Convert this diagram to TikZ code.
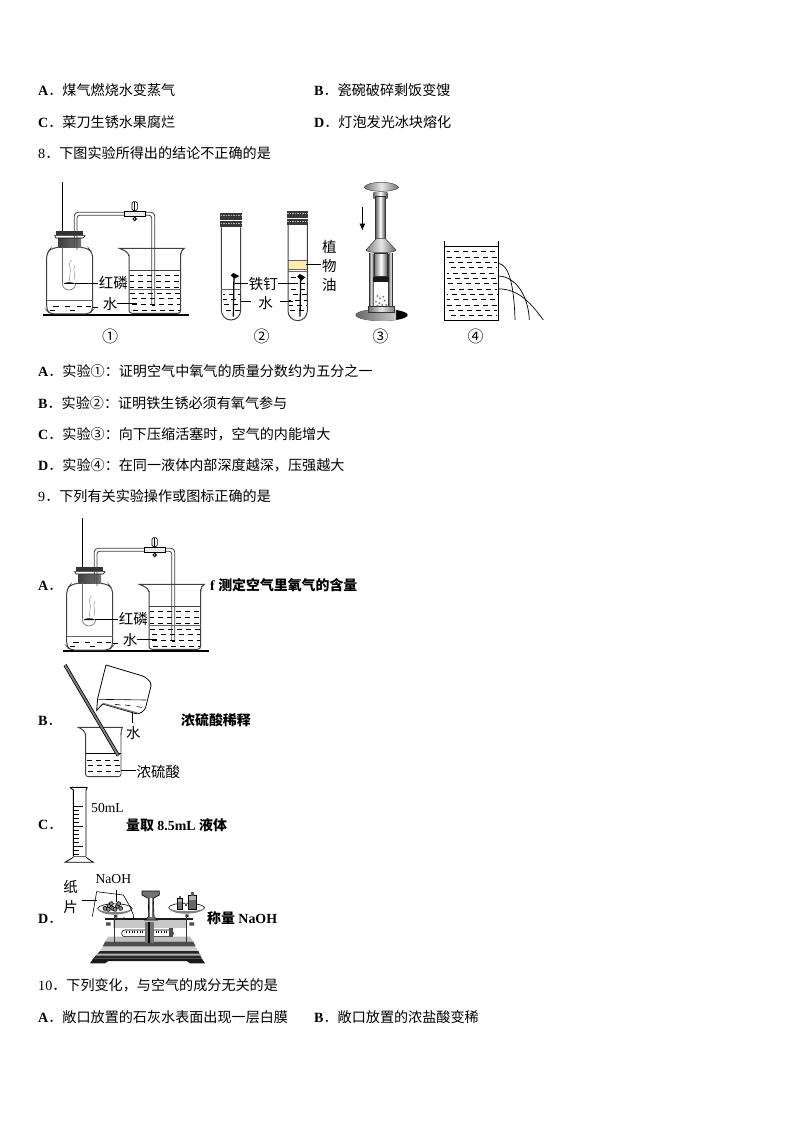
\documentclass[tikz,border=0pt]{standalone}
\usepackage{fontspec}
\usetikzlibrary{arrows.meta}
\setmainfont{Liberation Serif}
\newfontfamily\cjk{Noto Sans CJK SC}
\newcommand{\zh}[1]{{\cjk #1}}
\newcommand{\opt}[1]{{\bfseries #1}{\cjk ．}}
\tikzset{
 txt/.style={anchor=west,inner sep=0pt,font=\fontsize{14.1}{15}\selectfont},
 lbl/.style={inner sep=0pt,font=\fontsize{14.5}{16}\selectfont\cjk},
 circ/.style={inner sep=0pt,font=\fontsize{16}{17}\selectfont\cjk},
 btxt/.style={anchor=west,inner sep=0pt,font=\fontsize{13.9}{15}\selectfont\bfseries},
 ink/.style={line width=0.6pt,black},
 soft/.style={line width=0.6pt,black!60},
 wdash/.style={line width=0.5pt,black,dash pattern=on 5pt off 4pt},
 glass/.style={line width=0.8pt,black!75},
}
\newcommand{\apparatus}[1]{%
 % base
 \fill[black] (40,433) rectangle (478,439);
 % bottle
 \draw[glass,line width=1pt,rounded corners=4pt] (85,232) -- (62,236) -- (50,250) -- (50,420) -- (60,432) -- (178,432) -- (188,420) -- (188,250) -- (176,236) -- (152,232);
 \draw[soft] (50,392) -- (188,392);
 \foreach \x in {70,105,140,168} \draw[ink,line width=0.7pt] (\x,409) -- ++(16,0);
 \foreach \x in {60,120} \draw[ink,line width=0.7pt] (\x,420) -- ++(16,0);
 % stopper
 \shade[left color=black!75,right color=black!55] (85,204) rectangle (153,232);
 \fill[black!80] (78,184) rectangle (158,195);
 \draw[ink,fill=white] (74,197) -- (165,197) -- (160,204) -- (78,204) -- cycle;
 % rod
 \draw[ink] (97,35) -- (97,184);
 \draw[soft] (97,232) -- (97,338);
 % smoke
 \draw[black!35,line width=0.6pt] (125,270) .. controls (108,285) and (128,295) .. (120,310) .. controls (115,320) and (122,328) .. (118,335);
 \draw[black!35,line width=0.6pt] (135,285) .. controls (125,300) and (140,315) .. (132,330);
 % spoon
 \draw[soft,fill=white] (97,340) arc[start angle=180,end angle=0,radius=20];
 \fill[black] (100,342) .. controls (105,335) and (130,335) .. (136,342) -- cycle;
 \draw[ink] (136,340) -- (205,340);
 \draw[ink] (188,411) -- (205,411);
 % tube
 \draw[glass,rounded corners=3.5pt] (133,232) -- (133,127) -- (374,127) -- (374,405);
 \draw[glass,rounded corners=2.5pt] (141,240) -- (141,136) -- (365,136) -- (365,405);
 \draw[ink] (365,405) -- (374,405);
 % clamp
 \draw[ink,fill=black!8] (283,123) rectangle (345,140);
 \draw[ink,fill=white,rounded corners=1.5pt] (306,95) rectangle (322,122);
 \draw[ink] (314,95) -- (314,122);
 \draw[ink] (314,140) -- (314,143);
 \draw[ink,line width=1pt] (314,147) circle[radius=5];
 % beaker
 \draw[glass,line width=1pt,rounded corners=3pt] (297,255) -- (297,430) -- (452,430) -- (452,250);
 \draw[glass,line width=1pt] (297,258) .. controls (295,245) and (280,240) .. (268,235) -- (463,235) .. controls (456,240) and (452,245) .. (452,255);
 \draw[glass] (297,300) -- (452,300);
 \draw[soft] (297,358) -- (452,358);
 \foreach \y in {316,334,352,369,385,403,420} \draw[wdash,dash phase=\y pt] (300,\y) -- (450,\y);
 \draw[ink,line width=0.7pt] (262,400) -- (322,400);
 \node[lbl] (#1a) at (250,340) {红磷};
 \node[lbl] (#1b) at (240,402) {水};
}
\newcommand{\stopper}[2]{%
 \fill[black!78] (#1-4,#2) rectangle (#1+61,#2+21);
 \fill[black!78] (#1-4,#2+26) rectangle (#1+61,#2+43);
 \draw[white!70!black,dash pattern=on 1.5pt off 1pt,line width=0.9pt] (#1-2,#2+9) -- (#1+59,#2+9);
 \draw[white!70!black,dash pattern=on 1.5pt off 1pt,line width=0.9pt] (#1-2,#2+33) -- (#1+59,#2+33);
}
\begin{document}
\begin{tikzpicture}[x=1pt,y=-1pt]
\useasboundingbox (0,0) rectangle (794,1123);
\fill[white] (0,0) rectangle (794,1123);
% question text
\node[txt] (t1) at (38,90.5) {\opt{A}\zh{煤气燃烧水变蒸气}};
\node[txt] (t2) at (314,90.5) {\opt{B}\zh{瓷碗破碎剩饭变馊}};
\node[txt] (t3) at (38,122.5) {\opt{C}\zh{菜刀生锈水果腐烂}};
\node[txt] (t4) at (314,122.5) {\opt{D}\zh{灯泡发光冰块熔化}};
\node[txt] (t5) at (38,153.5) {8\zh{．下图实验所得出的结论不正确的是}};
\node[txt] (t6) at (38,371.5) {\opt{A}\zh{实验①：证明空气中氧气的质量分数约为五分之一}};
\node[txt] (t7) at (38,403.5) {\opt{B}\zh{实验②：证明铁生锈必须有氧气参与}};
\node[txt] (t8) at (38,434.5) {\opt{C}\zh{实验③：向下压缩活塞时，空气的内能增大}};
\node[txt] (t9) at (38,465.5) {\opt{D}\zh{实验④：在同一液体内部深度越深，压强越大}};
\node[txt] (t10) at (38,496.5) {9\zh{．下列有关实验操作或图标正确的是}};
\node[txt] (t11) at (38,585.5) {\opt{A}};
\node[txt] (t12) at (38,720.5) {\opt{B}};
\node[txt] (t13) at (38,824.5) {\opt{C}};
\node[txt] (t14) at (38,918.5) {\opt{D}};
\node[btxt] (t15) at (210,585.5) {f \zh{测定空气里氧气的含量}};
\node[btxt] (t16) at (181,720.5) {\zh{浓硫酸稀释}};
\node[btxt] (t17) at (126,825.5) {\zh{量取} 8.5mL \zh{液体}};
\node[btxt] (t18) at (207,918.5) {\zh{称量} NaOH};
\node[txt] (t19) at (38,985.5) {10\zh{．下列变化，与空气的成分无关的是}};
\node[txt] (t20) at (38,1017.5) {\opt{A}\zh{敞口放置的石灰水表面出现一层白膜}};
\node[txt] (t21) at (314,1017.5) {\opt{B}\zh{敞口放置的浓盐酸变稀}};
% figure 1
\begin{scope}[shift={(30,170)},scale=1/3]
 \apparatus{p}
 \node[circ] (n1) at (240,498) {①};
 % figure 2
 \stopper{574}{128}
 \stopper{774}{122}
 \draw[glass,line width=1pt] (574,172) -- (574,421) arc[start angle=180,end angle=0,radius=29] -- (632,172);
 \draw[soft] (574,358) -- (632,358);
 \foreach \y in {372,388,404,420} \draw[wdash,dash phase=\y pt] (578,\y) -- (630,\y);
 \draw[black,line width=1.3pt] (610,440) -- (612,318);
 \fill[black] (602,316) -- (610,309) -- (628,318) -- (614,326) -- cycle;
 \draw[ink] (614,340) -- (655,340);
 \draw[ink] (632,393) -- (662,393);
 \node[lbl] (n2a) at (700,343) {铁钉};
 \node[lbl] (n2b) at (707,398) {水};
 \node[circ] (n2) at (695,498) {②};
 % right tube
 \fill[yellow!55!orange!30] (775,272) rectangle (832,298);
 \draw[soft] (775,272) -- (832,272) (775,298) -- (832,298) (775,305) -- (832,305);
 \draw[glass,line width=1pt] (774,165) -- (774,423) arc[start angle=180,end angle=0,radius=29] -- (832,165);
 \foreach \y in {322,340,358,374,390,406,422} \draw[wdash,dash phase=\y pt] (778,\y) -- (830,\y);
 \draw[black,line width=1.3pt] (810,440) -- (812,325);
 \fill[black] (802,320) -- (810,312) -- (826,322) -- (814,332) -- cycle;
 \draw[ink] (745,340) -- (805,340);
 \draw[ink] (750,393) -- (790,393);
 \draw[ink] (828,283) -- (872,283);
 \node[lbl] (n3a) at (898,230) {植};
 \node[lbl] (n3b) at (898,287) {物};
 \node[lbl] (n3c) at (898,345) {油};
\end{scope}
\begin{scope}[shift={(290,170)},scale=1/3]
 % figure 3
 \draw[black,line width=1.2pt,-{Latex[length=7pt,width=6pt]}] (217,110) -- (217,182);
 \shade[left color=black!60,right color=black!70,middle color=white] (250,68) rectangle (292,85);
 \shade[left color=black!55,right color=black!55,middle color=black!10] (222,52) .. controls (232,32) and (316,32) .. (326,52) .. controls (316,68) and (232,68) .. (222,52) -- cycle;
 \draw[black!70,line width=0.5pt] (222,52) .. controls (232,32) and (316,32) .. (326,52) .. controls (316,68) and (232,68) .. (222,52) -- cycle;
 \shade[left color=black!65,right color=black!75,middle color=white] (256,80) rectangle (286,208);
 \draw[black!80,line width=0.5pt] (256,80) rectangle (286,208);
 \shade[left color=black!50,right color=black!60,middle color=black!10] (260,205) -- (285,205) -- (318,240) arc[start angle=0,end angle=180,x radius=45,y radius=8] -- cycle;
 \draw[black!80,line width=0.5pt] (260,205) -- (285,205) -- (318,240) arc[start angle=0,end angle=180,x radius=45,y radius=8] -- cycle;
 \shade[left color=black!60,right color=black!70,middle color=black!10] (238,250) rectangle (250,415);
 \shade[left color=black!60,right color=black!70,middle color=black!10] (296,250) rectangle (308,415);
 \draw[black!80,line width=0.6pt] (238,250) -- (238,415) (308,250) -- (308,415);
 \shade[left color=black!50,right color=black!65,middle color=white] (254,250) rectangle (292,320);
 \draw[black!80,line width=0.6pt] (254,250) rectangle (292,320);
 \fill[black!90] (250,320) rectangle (296,336);
 \foreach \x/\y in {262/378,270/385,280/380,258/395,268/400,284/392,276/405,262/407,288/405} \fill[black!55] (\x,\y) circle[radius=3];
 \fill[black] (275,435) ellipse[x radius=78,y radius=18];
 \begin{scope}
  \clip (190,400) rectangle (318,470);
  \shade[left color=black!60,right color=black!10] (275,435) ellipse[x radius=78,y radius=18];
 \end{scope}
 \shade[left color=black!55,right color=black!50,middle color=black!10] (236,410) rectangle (312,428);
 \draw[black!80,line width=0.5pt] (236,410) rectangle (312,428);
 \node[circ] (n4) at (271,500) {③};
 % figure 4
 \draw[black,line width=1pt] (463,213) -- (463,453) -- (625,453) -- (625,213);
 \draw[black,line width=0.7pt] (463,229) -- (625,229);
 \foreach \y in {245,261,277,293,309,325,341,357,373,389,405,421,437} \draw[wdash,dash phase=\y pt] (470,\y) -- (622,\y);
 \draw[black,line width=0.7pt] (625,280) .. controls (655,283) and (672,340) .. (675,450);
 \draw[black,line width=0.7pt] (625,318) .. controls (680,320) and (715,380) .. (718,450);
 \draw[black,line width=0.7pt] (625,357) .. controls (690,355) and (730,410) .. (760,450);
 \node[circ] (n5) at (557,500) {④};
\end{scope}
% 9A
\begin{scope}[shift={(50,506)},scale=1/3]
 \apparatus{q}
\end{scope}
% 9B, 9C
\begin{scope}[shift={(30,655)},scale=1/3]
 \draw[ink,fill=white,line width=0.8pt,rounded corners=3pt] (228,30) -- (345,65) -- (365,85) -- (345,165) -- (325,178) -- (218,147);
 \draw[ink,line width=0.8pt] (218,147) -- (200,166) -- (203,130) -- (228,30);
 \draw[ink] (205,133) -- (348,135);
 \draw[black!55,line width=1.2pt] (218,145) -- (325,175);
 \foreach \x/\y in {255/148,285/150,320/155} \draw[ink] (\x,\y) -- ++(16,2);
 \draw[ink] (308,170) -- (308,205);
 \node[lbl] (b1) at (310,235) {水};
 \draw[glass,line width=0.9pt,rounded corners=2.5pt] (167,235) -- (167,365) -- (273,365) -- (273,235);
 \draw[glass,line width=0.9pt] (167,240) .. controls (165,228) and (155,222) .. (145,217) -- (277,217) .. controls (274,222) and (273,230) .. (273,240);
 \draw[black,line width=0.7pt] (167,295) -- (273,295);
 \foreach \y in {315,332,350} \draw[wdash,dash phase=\y pt] (172,\y) -- (270,\y);
 \draw[black,line width=3.4pt] (105,30) -- (265,302);
 \draw[black!50,line width=1.8pt] (105,30) -- (265,302);
 \draw[ink] (273,345) -- (318,345);
 \node[lbl] (b2) at (385,352) {浓硫酸};
 % cylinder
 \draw[black,line width=0.9pt] (120,397) -- (172,397) (120,397) -- (130,405) -- (130,605) (172,397) -- (168,405) -- (168,605);
 \foreach \y in {453,513,573} \draw[black,line width=0.6pt] (132,\y) -- (160,\y);
 \foreach \y in {465,477,489,501,525,537,549,561,585,597} \draw[black,line width=0.5pt] (132,\y) -- (148,\y);
 \draw[black!60,line width=1pt] (130,605) -- (168,605);
 \draw[black,line width=0.8pt] (130,607) -- (105,622) -- (190,622) -- (168,607);
 \node[anchor=west,inner sep=0pt,font=\fontsize{13.6}{15}\selectfont] (c1) at (183,458) {50mL};
\end{scope}
% 9D balance
\begin{scope}[shift={(30,865)},scale=1/3]
 \node[anchor=center,inner sep=0pt,font=\fontsize{13.6}{15}\selectfont] (d1) at (250,42) {NaOH};
 \node[lbl] (d2) at (122,65) {纸};
 \node[lbl] (d3) at (122,125) {片};
 \draw[ink] (155,105) -- (200,105);
 \draw[ink] (258,75) -- (258,112);
 % base
 \fill[black!90] (190,280) -- (515,280) -- (525,295) -- (480,295) -- (470,288) -- (235,288) -- (225,295) -- (180,295) -- cycle;
 \fill[black!25] (235,215) -- (480,215) -- (490,230) -- (225,230) -- cycle;
 \fill[black!70] (225,230) -- (490,230) -- (497,245) -- (218,245) -- cycle;
 \fill[black!20] (218,245) -- (497,245) -- (505,258) -- (210,258) -- cycle;
 \fill[black!85] (210,258) -- (505,258) -- (515,280) -- (190,280) -- cycle;
 \fill[black!30] (202,266) -- (510,266) -- (512,272) -- (198,272) -- cycle;
 % beam
 \fill[black!22] (250,165) rectangle (470,190);
 \fill[black!90] (225,160) rectangle (490,165);
 \draw[black!80,line width=0.7pt] (252,150) -- (252,230) (468,150) -- (468,230);
 \fill[black!70] (228,172) rectangle (242,182) (478,172) rectangle (492,182);
 % slider
 \draw[black,line width=0.6pt,fill=white,rounded corners=3pt] (275,195) rectangle (430,215);
 \foreach \x in {290,298,...,420} \draw[black,line width=0.4pt] (\x,197) -- (\x,204);
 \fill[black!70] (418,190) rectangle (428,215);
 % pillar
 \fill[black!55] (336,78) -- (388,78) -- (388,90) -- (370,100) -- (372,155) -- (382,165) -- (345,165) -- (356,155) -- (355,100) -- (336,90) -- cycle;
 \draw[black,line width=0.6pt] (336,78) -- (388,78) -- (388,90) -- (370,100) -- (372,155) -- (382,165) -- (345,165) -- (356,155) -- (355,100) -- (336,90) -- cycle;
 \fill[white] (359,100) rectangle (366,155);
 \fill[black!55] (345,170) rectangle (372,235);
 \fill[black] (355,170) rectangle (360,235);
 % pans
 \draw[black,line width=0.6pt,fill=white] (203,130) .. controls (205,150) and (300,150) .. (307,130) .. controls (300,112) and (210,112) .. (203,130) -- cycle;
 \fill[black!50] (203,130) .. controls (205,155) and (300,155) .. (307,130) .. controls (300,145) and (210,145) .. (203,130) -- cycle;
 \draw[black,line width=0.6pt,fill=white] (416,128) .. controls (420,148) and (515,148) .. (524,128) .. controls (515,110) and (420,110) .. (416,128) -- cycle;
 \fill[black!50] (416,128) .. controls (420,152) and (515,152) .. (524,128) .. controls (515,142) and (420,142) .. (416,128) -- cycle;
 \fill[black!75] (252,150) rectangle (262,158) (466,148) rectangle (476,156);
 % paper
 \draw[ink] (187,155) -- (200,80) -- (280,90) -- (300,125) -- (310,150) .. controls (315,168) and (295,165) .. (280,158);
 % balls
 \foreach \x/\y in {225/130,237/122,248/130,262/124,272/130,235/133,255/133,244/116,266/116} \draw[black,fill=black!45,line width=0.6pt] (\x,\y) circle[radius=6];
 % weights
 \fill[black!55] (442,100) rectangle (458,132);
 \fill[black!30] (442,100) rectangle (458,110);
 \draw[black,line width=0.5pt] (442,100) rectangle (458,132);
 \fill[black!65] (447,93) rectangle (453,100);
 \fill[black!60] (476,92) rectangle (498,132);
 \fill[black!30] (476,92) rectangle (498,105);
 \draw[black,line width=0.5pt] (476,92) rectangle (498,132);
 \fill[black!65] (483,82) rectangle (491,92);
 \fill[black!70] (466,118) rectangle (470,122);
\end{scope}
\end{tikzpicture}
\end{document}
